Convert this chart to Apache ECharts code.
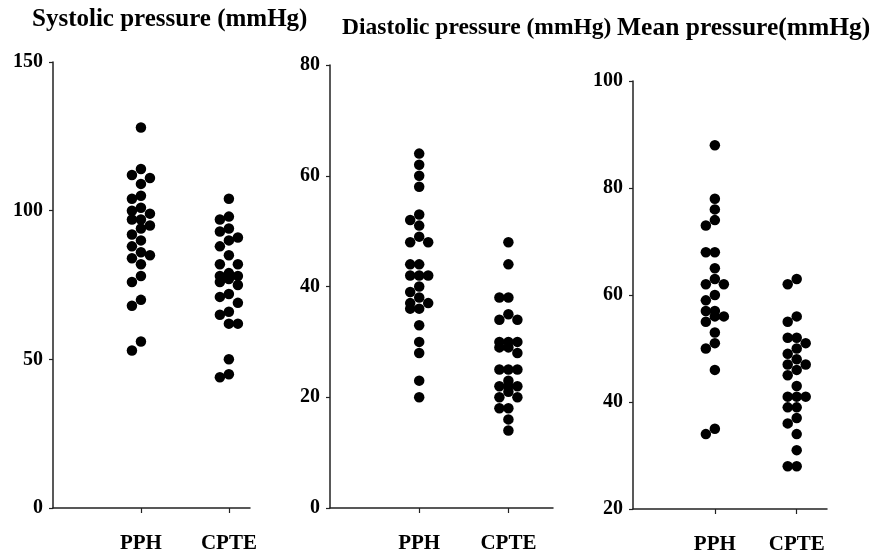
<!DOCTYPE html>
<html>
<head>
<meta charset="utf-8">
<script src="https://cdn.jsdelivr.net/npm/echarts@6/dist/echarts.min.js"></script>
<style>
  html, body { margin: 0; background: #fff; }
  #chart { width: 891px; height: 555px; }
</style>
</head>
<body>
<div id="chart"></div>
<script>
// groups on the x axis
const groups = ['PPH', 'CPTE'];

// values (mmHg)
const systolicPPH = [128, 114, 112, 111, 109, 105, 104, 101, 100, 99, 97, 97, 95, 94, 92, 90, 88, 86, 85, 84, 82, 78, 76, 70, 68, 56, 53];
const systolicCPTE = [104, 98, 97, 94, 93, 91, 90, 88, 85, 82, 82, 79, 78, 78, 77, 76, 75, 72, 71, 69, 66, 65, 62, 62, 50, 45, 44];

const diastolicPPH = [64, 62, 60, 58, 53, 52, 51, 49, 48, 48, 44, 44, 42, 42, 42, 40, 39, 38, 37, 37, 36, 36, 33, 30, 28, 23, 20];
const diastolicCPTE = [48, 44, 38, 38, 35, 34, 34, 30, 30, 30, 29, 29, 28, 25, 25, 25, 23, 22, 22, 22, 21, 20, 20, 18, 18, 16, 14];

const meanPPH = [88, 78, 76, 74, 73, 68, 68, 65, 63, 62, 62, 60, 59, 57, 57, 56, 56, 55, 53, 51, 50, 46, 35, 34];
const meanCPTE = [63, 62, 56, 55, 52, 52, 51, 50, 49, 48, 47, 47, 46, 45, 43, 41, 41, 41, 39, 39, 37, 36, 34, 31, 28, 28];

const titles = ['Systolic pressure (mmHg)', 'Diastolic pressure (mmHg)', 'Mean pressure(mmHg)'];
const yMins = [0, 0, 20];
const yMaxs = [150, 80, 100];
const ySteps = [50, 20, 20];

const font = 'Liberation Serif';
const DOT = 10.5;
const SLOT = 9;

// layout of the three panels
const panels = [
  { data: [systolicPPH, systolicCPTE], grid: { left: 53, top: 62, width: 197, height: 446 }, xMax: 2.24, title: { left: 32, top: 7, size: 25 } },
  { data: [diastolicPPH, diastolicCPTE], grid: { left: 330, top: 65, width: 223, height: 443 }, xMax: 2.5, title: { left: 342, top: 16, size: 23.5 } },
  { data: [meanPPH, meanCPTE], grid: { left: 633, top: 81, width: 194, height: 429 }, xMax: 2.37, title: { left: 617, top: 15, size: 25.5 } }
];

// simple dodge so that dots of equal value sit side by side (3 columns)
function dodge(values, pxPerUnit) {
  const order = values.map((v, i) => i).sort((a, b) => values[b] - values[a]);
  const placed = { '0': [], '-1': [], '1': [] };
  const prefs = [0, -1, 1];
  const slots = [];
  order.forEach(i => {
    const y = values[i] * pxPerUnit;
    let best = 0, bestDist = -1;
    for (const s of prefs) {
      const d = placed[s].length ? Math.min(...placed[s].map(p => Math.abs(p - y))) : Infinity;
      if (d >= DOT - 1.5) { best = s; bestDist = d; break; }
      if (d > bestDist) { best = s; bestDist = d; }
    }
    placed[best].push(y);
    slots[i] = best;
  });
  return slots;
}

const option = {
  animation: false,
  backgroundColor: '#fff',
  title: panels.map((p, i) => ({
    text: titles[i],
    left: p.title.left,
    top: p.title.top,
    padding: 0,
    textStyle: { fontFamily: font, fontWeight: 'bold', fontSize: p.title.size, color: '#000' }
  })),
  grid: panels.map(p => p.grid),
  xAxis: panels.map((p, i) => ({
    type: 'value',
    gridIndex: i,
    min: 0,
    max: p.xMax,
    axisLine: { show: true, onZero: false, lineStyle: { color: '#222', width: 1.5 } },
    axisTick: { show: true, customValues: [1, 2], length: 5, lineStyle: { color: '#222', width: 1.2 } },
    axisLabel: {
      customValues: [1, 2],
      formatter: v => groups[Math.round(v) - 1] || '',
      margin: 25,
      fontFamily: font, fontWeight: 'bold', fontSize: 21, color: '#000'
    },
    splitLine: { show: false }
  })),
  yAxis: panels.map((p, i) => ({
    type: 'value',
    gridIndex: i,
    min: yMins[i],
    max: yMaxs[i],
    interval: ySteps[i],
    axisLine: { show: true, onZero: false, lineStyle: { color: '#222', width: 1.5 } },
    axisTick: { show: true, length: 4, lineStyle: { color: '#222', width: 1.2 } },
    axisLabel: { margin: 10, padding: [6, 0, 0, 0], fontFamily: font, fontWeight: 'bold', fontSize: 20, color: '#000' },
    splitLine: { show: false }
  })),
  series: []
};

panels.forEach((p, i) => {
  const pxPerUnit = p.grid.height / (yMaxs[i] - yMins[i]);
  p.data.forEach((vals, g) => {
    const slots = dodge(vals, pxPerUnit);
    option.series.push({
      type: 'scatter',
      xAxisIndex: i,
      yAxisIndex: i,
      symbolSize: DOT,
      itemStyle: { color: '#000', opacity: 1 },
      data: vals.map((v, k) => ({ value: [g + 1, v], symbolOffset: [slots[k] * SLOT, 0] }))
    });
  });
});

const chart = echarts.init(document.getElementById('chart'));
chart.setOption(option);
window.addEventListener('resize', () => chart.resize());
</script>
</body>
</html>
